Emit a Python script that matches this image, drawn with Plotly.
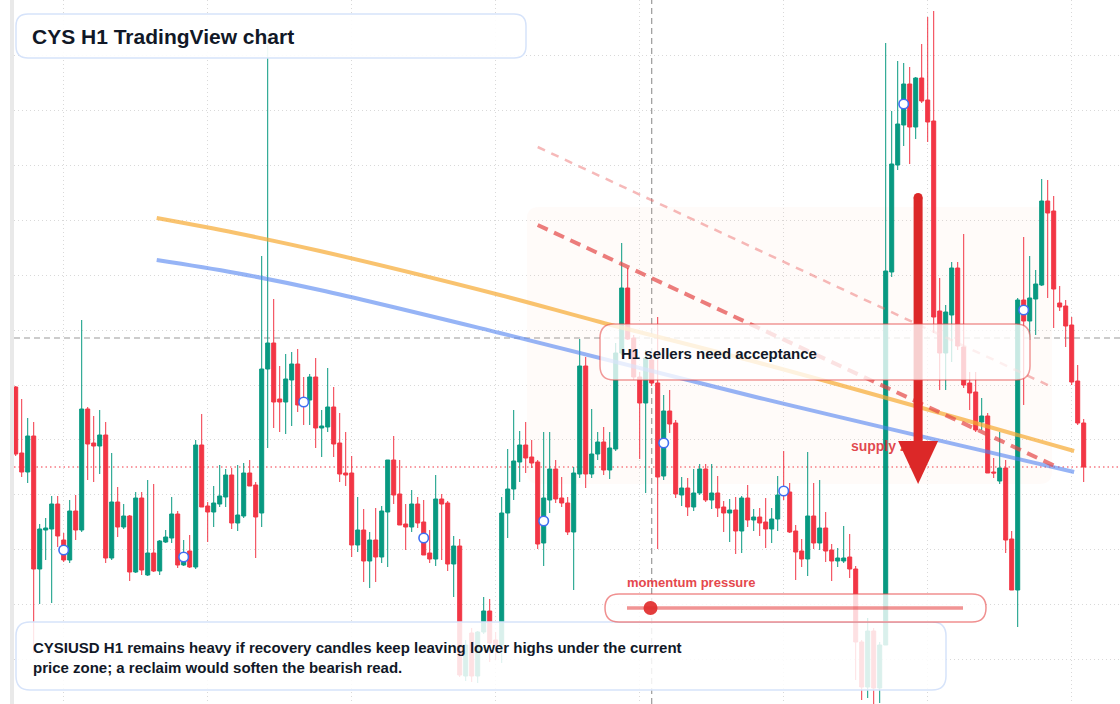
import plotly.graph_objects as go

# ---------------- data ----------------
idx = list(range(179))

open_ = [0.413, 0.347, 0.328, 0.364, 0.231, 0.270, 0.271, 0.296, 0.260, 0.240,
         0.289, 0.270, 0.391, 0.357, 0.354, 0.365, 0.242, 0.298, 0.273, 0.284,
         0.228, 0.302, 0.225, 0.247, 0.229, 0.258, 0.262, 0.286, 0.235, 0.249,
         0.233, 0.355, 0.294, 0.288, 0.296, 0.303, 0.325, 0.277, 0.284, 0.327,
         0.315, 0.287, 0.431, 0.457, 0.401, 0.398, 0.420, 0.436, 0.400, 0.400,
         0.423, 0.372, 0.373, 0.393, 0.357, 0.327, 0.327, 0.255, 0.270, 0.239,
         0.260, 0.243, 0.288, 0.340, 0.306, 0.276, 0.273, 0.296, 0.278, 0.247,
         0.241, 0.301, 0.297, 0.236, 0.254, 0.124, 0.167, 0.124, 0.168, 0.189,
         0.160, 0.155, 0.287, 0.311, 0.338, 0.355, 0.343, 0.338, 0.257, 0.300,
         0.331, 0.302, 0.297, 0.268, 0.326, 0.434, 0.326, 0.346, 0.358, 0.330,
         0.351, 0.447, 0.512, 0.462, 0.423, 0.397, 0.440, 0.417, 0.324, 0.389,
         0.377, 0.305, 0.312, 0.293, 0.307, 0.331, 0.300, 0.307, 0.293, 0.287,
         0.290, 0.269, 0.302, 0.280, 0.283, 0.278, 0.271, 0.281, 0.311, 0.308,
         0.269, 0.249, 0.241, 0.284, 0.257, 0.272, 0.250, 0.239, 0.239, 0.243,
         0.231, 0.158, 0.113, 0.169, 0.112, 0.155, 0.528, 0.635, 0.675, 0.716,
         0.673, 0.722, 0.700, 0.679, 0.489, 0.447, 0.485, 0.532, 0.453, 0.417,
         0.408, 0.378, 0.384, 0.328, 0.319, 0.332, 0.261, 0.210, 0.500, 0.479,
         0.501, 0.515, 0.599, 0.589, 0.497, 0.494, 0.475, 0.419, 0.377]

high = [0.414, 0.401, 0.382, 0.378, 0.276, 0.282, 0.304, 0.304, 0.267, 0.300,
        0.305, 0.480, 0.393, 0.384, 0.390, 0.378, 0.347, 0.313, 0.296, 0.285,
        0.308, 0.308, 0.320, 0.316, 0.260, 0.270, 0.303, 0.289, 0.260, 0.265,
        0.360, 0.386, 0.298, 0.314, 0.335, 0.331, 0.332, 0.335, 0.337, 0.340,
        0.318, 0.544, 0.770, 0.501, 0.434, 0.446, 0.448, 0.451, 0.423, 0.426,
        0.442, 0.390, 0.432, 0.413, 0.387, 0.368, 0.344, 0.303, 0.291, 0.268,
        0.292, 0.294, 0.340, 0.364, 0.340, 0.296, 0.310, 0.303, 0.300, 0.270,
        0.325, 0.306, 0.299, 0.264, 0.261, 0.160, 0.172, 0.169, 0.203, 0.201,
        0.168, 0.303, 0.351, 0.390, 0.369, 0.378, 0.360, 0.340, 0.368, 0.368,
        0.340, 0.323, 0.303, 0.333, 0.461, 0.443, 0.391, 0.368, 0.373, 0.368,
        0.457, 0.557, 0.532, 0.465, 0.428, 0.450, 0.445, 0.483, 0.405, 0.410,
        0.380, 0.323, 0.322, 0.331, 0.336, 0.336, 0.336, 0.324, 0.299, 0.301,
        0.303, 0.304, 0.315, 0.291, 0.292, 0.302, 0.292, 0.324, 0.349, 0.317,
        0.275, 0.261, 0.348, 0.317, 0.320, 0.288, 0.256, 0.252, 0.274, 0.266,
        0.234, 0.160, 0.182, 0.172, 0.158, 0.757, 0.689, 0.739, 0.737, 0.733,
        0.723, 0.756, 0.783, 0.789, 0.522, 0.495, 0.538, 0.538, 0.566, 0.428,
        0.428, 0.402, 0.387, 0.342, 0.368, 0.340, 0.269, 0.502, 0.563, 0.544,
        0.530, 0.621, 0.620, 0.604, 0.514, 0.500, 0.483, 0.435, 0.381]

low = [0.344, 0.323, 0.317, 0.147, 0.196, 0.240, 0.197, 0.253, 0.238, 0.237,
       0.260, 0.268, 0.320, 0.318, 0.326, 0.237, 0.240, 0.263, 0.271, 0.219,
       0.227, 0.225, 0.224, 0.228, 0.225, 0.257, 0.257, 0.232, 0.234, 0.232,
       0.231, 0.293, 0.258, 0.273, 0.293, 0.293, 0.271, 0.269, 0.282, 0.314,
       0.242, 0.273, 0.352, 0.372, 0.368, 0.366, 0.374, 0.388, 0.375, 0.375,
       0.352, 0.343, 0.368, 0.343, 0.318, 0.314, 0.243, 0.248, 0.218, 0.212,
       0.218, 0.237, 0.233, 0.296, 0.275, 0.250, 0.268, 0.272, 0.245, 0.237,
       0.234, 0.240, 0.229, 0.203, 0.123, 0.119, 0.118, 0.117, 0.166, 0.138,
       0.140, 0.137, 0.262, 0.300, 0.318, 0.327, 0.332, 0.251, 0.234, 0.287,
       0.297, 0.293, 0.265, 0.210, 0.322, 0.312, 0.322, 0.340, 0.325, 0.321,
       0.349, 0.445, 0.460, 0.420, 0.341, 0.307, 0.414, 0.251, 0.320, 0.367,
       0.302, 0.294, 0.284, 0.289, 0.305, 0.298, 0.291, 0.283, 0.268, 0.258,
       0.246, 0.247, 0.273, 0.269, 0.264, 0.252, 0.257, 0.269, 0.300, 0.267,
       0.220, 0.233, 0.224, 0.251, 0.250, 0.238, 0.219, 0.233, 0.237, 0.222,
       0.120, 0.100, 0.102, 0.096, 0.097, 0.155, 0.523, 0.630, 0.654, 0.636,
       0.661, 0.697, 0.658, 0.467, 0.410, 0.410, 0.438, 0.450, 0.412, 0.390,
       0.368, 0.370, 0.327, 0.322, 0.316, 0.247, 0.210, 0.173, 0.395, 0.460,
       0.465, 0.514, 0.502, 0.472, 0.489, 0.453, 0.415, 0.375, 0.318]

close = [0.346, 0.328, 0.364, 0.231, 0.271, 0.272, 0.296, 0.264, 0.240, 0.289,
         0.270, 0.391, 0.356, 0.354, 0.365, 0.242, 0.298, 0.273, 0.284, 0.228,
         0.302, 0.230, 0.247, 0.229, 0.259, 0.263, 0.286, 0.235, 0.238, 0.233,
         0.355, 0.293, 0.288, 0.297, 0.304, 0.325, 0.277, 0.285, 0.327, 0.314,
         0.283, 0.431, 0.457, 0.398, 0.398, 0.421, 0.436, 0.395, 0.396, 0.423,
         0.372, 0.374, 0.393, 0.356, 0.326, 0.325, 0.255, 0.270, 0.239, 0.260,
         0.243, 0.289, 0.340, 0.305, 0.275, 0.273, 0.296, 0.277, 0.245, 0.241,
         0.301, 0.296, 0.236, 0.254, 0.125, 0.155, 0.124, 0.168, 0.189, 0.157,
         0.155, 0.287, 0.311, 0.339, 0.355, 0.342, 0.337, 0.256, 0.302, 0.331,
         0.301, 0.297, 0.268, 0.327, 0.434, 0.326, 0.346, 0.358, 0.330, 0.352,
         0.447, 0.512, 0.461, 0.423, 0.397, 0.442, 0.417, 0.323, 0.389, 0.376,
         0.306, 0.312, 0.293, 0.307, 0.331, 0.300, 0.307, 0.292, 0.287, 0.290,
         0.269, 0.302, 0.280, 0.283, 0.277, 0.271, 0.281, 0.305, 0.307, 0.268,
         0.248, 0.241, 0.284, 0.257, 0.272, 0.249, 0.239, 0.242, 0.242, 0.231,
         0.158, 0.113, 0.169, 0.112, 0.155, 0.529, 0.636, 0.676, 0.716, 0.673,
         0.722, 0.699, 0.678, 0.483, 0.447, 0.488, 0.532, 0.454, 0.415, 0.407,
         0.370, 0.384, 0.327, 0.327, 0.332, 0.260, 0.210, 0.500, 0.479, 0.502,
         0.516, 0.599, 0.587, 0.511, 0.493, 0.474, 0.418, 0.377, 0.333]

marker_idx = [8, 28, 48, 68, 88, 108, 128, 148, 168]
marker_price = [0.250, 0.243, 0.398, 0.262, 0.279, 0.357, 0.309, 0.696, 0.490]

slow_ma_idx = [23.5, 36.7, 50.7, 80.7, 97.4, 124.0, 176.4]
slow_ma = [0.582, 0.567, 0.549, 0.505, 0.478, 0.437, 0.349]
fast_ma_idx = [23.5, 36.7, 50.7, 80.7, 124.0, 176.4]
fast_ma = [0.540, 0.527, 0.510, 0.467, 0.402, 0.328]

upper_trend_idx = [87.0, 172.7]
upper_trend = [0.653, 0.413]
lower_trend_idx = [87.0, 173.2]
lower_trend = [0.575, 0.334]

zone_idx = [85.2, 172.7]
zone_price = [0.316, 0.593]
zone_label_idx = 139.2
zone_label_price = 0.353

arrow_idx = 150.4
arrow_top = 0.607
arrow_head_base = 0.359
arrow_tip = 0.316

crosshair_idx = 106
crosshair_price = 0.462

momentum_value = 0.07

title_text = "CYS H1 TradingView chart"
callout_text = "H1 sellers need acceptance"
zone_text = "supply zone"
gauge_text = "momentum pressure"
note_text = ("CYSIUSD H1 remains heavy if recovery candles keep leaving lower highs under the current<br>"
             "price zone; a reclaim would soften the bearish read.")

# ---------------- layout helpers ----------------
W, H = 1120, 704
ML = 14
PW = W - ML
FONT = "Liberation Sans, Arial, sans-serif"
INK = "#111827"
GREEN = "#089981"
RED = "#f23645"


def px(xp):
    return (xp - ML) / PW


def py(yp):
    return 1 - yp / H


def rr_path(x0, y0, x1, y1, rx, ry):
    return (f"M{x0 + rx},{y0} L{x1 - rx},{y0} Q{x1},{y0} {x1},{y0 + ry} "
            f"L{x1},{y1 - ry} Q{x1},{y1} {x1 - rx},{y1} L{x0 + rx},{y1} "
            f"Q{x0},{y1} {x0},{y1 - ry} L{x0},{y0 + ry} Q{x0},{y0} {x0 + rx},{y0} Z")


def panel(x0, y0, x1, y1, r, line, fill, width=1.5):
    return dict(type="path", xref="paper", yref="paper", layer="above",
                path=rr_path(px(x0), py(y1), px(x1), py(y0), r / PW, r / H),
                line=dict(color=line, width=width), fillcolor=fill)


fig = go.Figure()

fig.add_trace(go.Candlestick(
    x=idx, open=open_, high=high, low=low, close=close,
    increasing=dict(line=dict(color=GREEN, width=1), fillcolor=GREEN),
    decreasing=dict(line=dict(color=RED, width=1), fillcolor=RED),
    whiskerwidth=0, hoverinfo="skip", showlegend=False))

fig.add_trace(go.Scatter(x=slow_ma_idx, y=slow_ma, mode="lines",
                         line=dict(color="rgba(246,170,50,0.7)", width=4, shape="spline"),
                         hoverinfo="skip"))
fig.add_trace(go.Scatter(x=fast_ma_idx, y=fast_ma, mode="lines",
                         line=dict(color="rgba(80,130,240,0.6)", width=4, shape="spline"),
                         hoverinfo="skip"))
fig.add_trace(go.Scatter(x=upper_trend_idx, y=upper_trend, mode="lines",
                         line=dict(color="rgba(235,100,100,0.45)", width=2.5, dash="8px,7px"),
                         hoverinfo="skip"))
fig.add_trace(go.Scatter(x=lower_trend_idx, y=lower_trend, mode="lines",
                         line=dict(color="rgba(228,70,70,0.7)", width=4, dash="11px,7px"),
                         hoverinfo="skip"))
fig.add_trace(go.Scatter(x=marker_idx, y=marker_price, mode="markers",
                         marker=dict(size=9.5, color="white",
                                     line=dict(color="#3f6ff2", width=1.6)),
                         hoverinfo="skip"))
fig.add_trace(go.Scatter(x=[zone_label_idx], y=[zone_label_price], mode="text",
                         text=[f"<b>{zone_text}</b>"], textposition="middle right",
                         textfont=dict(family=FONT, size=14, color="rgba(220,40,48,0.85)"),
                         hoverinfo="skip"))

shapes = []
# supply zone (under the candles)
shapes.append(dict(type="path", xref="x", yref="y", layer="between",
                   path=rr_path(zone_idx[0], zone_price[0], zone_idx[1], zone_price[1], 2.0, 0.012),
                   line=dict(width=0), fillcolor="rgba(250,200,175,0.07)"))
# crosshair
shapes.append(dict(type="line", xref="paper", yref="y", layer="between",
                   x0=0, x1=1, y0=crosshair_price, y1=crosshair_price,
                   line=dict(color="#9a9a9a", width=1.2, dash="6px,4px")))
shapes.append(dict(type="line", xref="x", yref="paper", layer="between",
                   x0=crosshair_idx, x1=crosshair_idx, y0=0, y1=1,
                   line=dict(color="#9a9a9a", width=1.2, dash="6px,4px")))
# last price line
shapes.append(dict(type="line", xref="paper", yref="y", layer="between",
                   x0=0, x1=1, y0=close[-1], y1=close[-1],
                   line=dict(color=RED, width=1.2, dash="1.5px,3px")))
# left border band
shapes.append(dict(type="rect", xref="paper", yref="paper", layer="above",
                   x0=px(10), x1=px(14), y0=0, y1=1,
                   line=dict(width=0), fillcolor="#e9e9e9"))
# panels
shapes.append(panel(16, 14, 526, 58, 12, "#d6e3fa", "rgba(255,255,255,0.92)"))
shapes.append(panel(16, 622, 946, 690, 14, "#d6e3fa", "rgba(255,255,255,0.85)"))
# arrow
ARROW = "#dc2828"
shapes.append(dict(type="rect", xref="x", yref="y", layer="above",
                   x0=arrow_idx - 0.75, x1=arrow_idx + 0.75,
                   y0=arrow_head_base, y1=arrow_top - 0.0045,
                   line=dict(width=0), fillcolor=ARROW))
shapes.append(dict(type="circle", xref="x", yref="y", layer="above",
                   x0=arrow_idx - 0.75, x1=arrow_idx + 0.75,
                   y0=arrow_top - 0.009, y1=arrow_top,
                   line=dict(width=0), fillcolor=ARROW))
shapes.append(dict(type="path", xref="x", yref="y", layer="above",
                   path=(f"M{arrow_idx - 3.33},{arrow_head_base} L{arrow_idx + 3.33},{arrow_head_base} "
                         f"L{arrow_idx},{arrow_tip} Z"),
                   line=dict(width=0), fillcolor=ARROW))
# callout box
shapes.append(panel(600, 324, 1030, 380, 14, "rgba(230,70,70,0.55)", "rgba(255,255,255,0.78)"))
# momentum gauge
g0, g1, gy = 627, 963, 608
shapes.append(panel(605, 594, 986, 622, 14, "rgba(230,70,70,0.6)", "rgba(255,255,255,0.8)"))
shapes.append(dict(type="line", xref="paper", yref="paper", layer="above",
                   x0=px(g0), x1=px(g1), y0=py(gy), y1=py(gy),
                   line=dict(color="rgba(230,60,60,0.55)", width=3.5)))
gx = g0 + momentum_value * (g1 - g0)
shapes.append(dict(type="circle", xref="paper", yref="paper", layer="above",
                   x0=px(gx - 7), x1=px(gx + 7), y0=py(gy + 7), y1=py(gy - 7),
                   line=dict(width=0), fillcolor="rgba(225,45,45,0.92)"))

annotations = [
    dict(text=f"<b>{title_text}</b>", x=px(30), y=py(36), xref="paper", yref="paper",
         xanchor="left", yanchor="middle", showarrow=False,
         font=dict(family=FONT, size=21, color=INK)),
    dict(text=f"<b>{callout_text}</b>", x=px(619), y=py(353), xref="paper", yref="paper",
         xanchor="left", yanchor="middle", showarrow=False,
         font=dict(family=FONT, size=15, color=INK)),
    dict(text=f"<b>{gauge_text}</b>", x=px(625), y=py(582), xref="paper", yref="paper",
         xanchor="left", yanchor="middle", showarrow=False,
         font=dict(family=FONT, size=13, color="#e5484d")),
    dict(text=f"<b>{note_text}</b>", x=px(31), y=py(657), xref="paper", yref="paper",
         xanchor="left", yanchor="middle", align="left", showarrow=False,
         font=dict(family=FONT, size=15, color=INK)),
]

fig.update_layout(
    width=W, height=H,
    margin=dict(l=ML, r=0, t=0, b=0),
    paper_bgcolor="white", plot_bgcolor="white",
    showlegend=False,
    boxgap=0.33, boxgroupgap=0,
    shapes=shapes, annotations=annotations,
    font=dict(family=FONT),
    xaxis=dict(range=[-0.283, 184.05], showticklabels=False, ticks="",
               showgrid=True, gridcolor="#d9d9d9", griddash="1px,3px", gridwidth=1,
               tick0=8, dtick=24, zeroline=False, showline=False,
               rangeslider=dict(visible=False), fixedrange=True),
    yaxis=dict(range=[0.096, 0.8], showticklabels=False, ticks="",
               showgrid=True, gridcolor="#d9d9d9", griddash="1px,3px", gridwidth=1,
               tick0=0.799, dtick=0.05486, zeroline=False, showline=False, fixedrange=True),
)

fig.write_html("out.html")
